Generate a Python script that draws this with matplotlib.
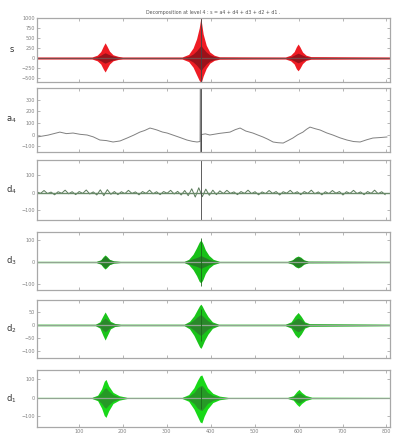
import numpy as np
import matplotlib
matplotlib.use("Agg")
import matplotlib.pyplot as plt

# ---------------- data ----------------
title_text = "Decomposition at level 4 : s = a4 + d4 + d3 + d2 + d1 ."
x_ticks = [100, 200, 300, 400, 500, 600, 700, 800]
panel_labels = ["s", "a$_4$", "d$_4$", "d$_3$", "d$_2$", "d$_1$"]

spike_x = 378

# signal s : burst envelopes
s_x = [5, 130, 142, 150, 156, 160, 164, 170, 178, 190, 200,
       335, 350, 360, 368, 374, 377, 378, 379, 383, 390, 398, 408, 420,
       570, 582, 590, 595, 599, 603, 609, 617, 628, 808]
s_hi = [25, 25, 70, 160, 300, 380, 300, 170, 80, 40, 25,
        25, 90, 250, 480, 750, 950, 1400, 900, 600, 320, 150, 70, 30,
        25, 70, 160, 280, 350, 280, 150, 70, 35, 25]
s_lo = [-25, -25, -70, -150, -280, -350, -270, -150, -70, -35, -25,
        -25, -90, -230, -420, -560, -600, -900, -600, -450, -260, -130, -60, -30,
        -25, -70, -150, -270, -320, -260, -140, -60, -30, -25]
s_core = [10, 10, 30, 70, 110, 130, 110, 80, 50, 20, 10,
          10, 40, 100, 180, 260, 300, 350, 300, 240, 150, 80, 40, 15,
          10, 30, 70, 100, 120, 100, 70, 40, 15, 10]

# approximation a4
a_x = [5, 30, 57, 72, 87, 103, 119, 133, 148, 163, 178, 194, 210, 225, 239, 250, 262, 270, 278,
       290, 301, 314, 330, 346, 358, 369, 376, 377, 378, 379, 388, 398, 420, 444,
       456, 467, 480, 496, 508, 519, 530, 542, 553, 565, 576, 587, 598, 610, 618, 626, 638, 649,
       664, 678, 694, 710, 725, 740, 755, 769, 785, 801]
a_v = [-21, -5, 21, 8, 13, 2, -4, -20, -47, -52, -64, -55, -30, -5, 21, 35, 56, 48, 39,
       22, 13, -4, -25, -47, -58, -64, -60, 1200, -900, 0, 6, -4, 10, 21,
       42, 56, 30, 13, -5, -21, -40, -64, -70, -73, -52, -30, -2, 21, 45, 64, 50, 39,
       14, -4, -28, -47, -60, -64, -45, -30, -26, -21]

# detail d4 (noisy), sampled every 8 points from 5
d4_v = [4, -5, 12, -6, 3, -13, 5, -4, 14, -7,
        5, -12, 6, -5, 15, -8, 4, -14, 16, -18,
        17, -10, 6, -12, 5, -6, 13, -5, 4, -13,
        6, -5, 14, -7, 5, -12, 6, -4, 13, -8,
        7, -14, 12, -18, 22, -26, 28, -24, 20, -16,
        14, -12, 10, -6, 13, -5, 4, -12, 6, -5,
        14, -6, 5, -13, 4, -6, 12, -5, 6, -14,
        5, -4, 13, -6, 5, -12, 6, -5, 14, -7,
        4, -13, 5, -6, 12, -4, 6, -14, 5, -5,
        13, -6, 4, -12, 6, -5, 14, -7, 5, -12]

# detail d3 envelopes
d3_x = [5, 140, 150, 156, 160, 164, 170, 180, 195,
        340, 350, 360, 368, 374, 378, 382, 388, 396, 406, 420,
        575, 586, 593, 599, 605, 612, 622, 808]
d3_hi = [3, 3, 10, 25, 32, 25, 12, 5, 3,
         3, 12, 35, 65, 90, 100, 85, 55, 30, 12, 3,
         3, 10, 22, 27, 22, 10, 4, 3]
d3_lo = [-3, -3, -10, -25, -32, -25, -12, -5, -3,
         -3, -12, -35, -62, -88, -95, -82, -52, -28, -12, -3,
         -3, -10, -22, -27, -22, -10, -4, -3]
d3_core = [2, 2, 8, 20, 28, 20, 10, 4, 2,
           2, 8, 15, 20, 25, 30, 25, 20, 12, 6, 2,
           2, 8, 18, 24, 18, 8, 3, 2]

# detail d2 envelopes
d2_x = [5, 138, 148, 155, 160, 165, 172, 182, 195,
        340, 352, 362, 370, 375, 378, 381, 386, 394, 404, 418,
        570, 583, 592, 599, 606, 614, 625, 808]
d2_hi = [3, 3, 12, 35, 50, 35, 14, 6, 3,
         3, 14, 35, 60, 75, 80, 72, 55, 32, 12, 3,
         3, 12, 35, 48, 33, 12, 5, 3]
d2_lo = [-3, -3, -12, -40, -58, -40, -15, -6, -3,
         -3, -15, -40, -68, -85, -90, -80, -60, -35, -13, -3,
         -3, -12, -38, -50, -35, -12, -5, -3]
d2_core = [2, 2, 8, 20, 26, 20, 9, 4, 2,
           2, 8, 20, 32, 38, 40, 36, 28, 16, 7, 2,
           2, 8, 20, 26, 20, 8, 3, 2]

# detail d1 envelopes
d1_x = [5, 130, 143, 152, 158, 162, 168, 178, 192, 210,
        335, 350, 362, 370, 376, 380, 385, 393, 405, 420, 440,
        575, 588, 596, 601, 607, 616, 630, 808]
d1_hi = [3, 3, 15, 50, 90, 100, 65, 30, 12, 3,
         3, 18, 55, 95, 120, 124, 95, 55, 25, 10, 3,
         3, 12, 35, 46, 30, 14, 4, 3]
d1_lo = [-3, -3, -15, -55, -95, -105, -70, -30, -12, -3,
         -3, -18, -60, -100, -130, -135, -100, -60, -25, -10, -3,
         -3, -12, -35, -46, -30, -14, -4, -3]
d1_core = [2, 2, 10, 30, 50, 55, 38, 18, 6, 2,
           2, 10, 30, 55, 65, 68, 55, 30, 14, 5, 2,
           2, 8, 22, 28, 20, 8, 2, 2]

ylims = [(-600, 1000), (-150, 400), (-160, 190), (-127, 136), (-127, 96), (-157, 151)]
yticks = [[-500, -250, 0, 250, 500, 750, 1000], [-100, 0, 100, 200, 300],
          [-100, 0, 100], [-100, 0, 100], [-100, -50, 0, 50], [-100, 0, 100]]
spike_lo = [-2000, -2000, -500, -110, -60, -60]
spike_hi = [2000, 2000, 500, 110, 60, 60]

# ---------------- figure ----------------
W, H = 396, 443
fig = plt.figure(figsize=(W / 100, H / 100), dpi=100)
px_boxes = [(18, 82), (88, 152), (160, 220), (232, 290), (300, 358), (370, 427)]
left_px, right_px = 37, 390
axes = []
for (t, b) in px_boxes:
    ax = fig.add_axes([left_px / W, 1 - b / H, (right_px - left_px) / W, (b - t) / H])
    axes.append(ax)

edge = "#a8a8a8"
for i, ax in enumerate(axes):
    ax.set_xlim(5, 808)
    ax.set_ylim(*ylims[i])
    ax.set_yticks(yticks[i])
    ax.set_xticks(x_ticks)
    ax.tick_params(direction="in", length=2, width=0.5, colors="#999999",
                   labelsize=3.5, labelcolor="#808080", top=True, right=True, pad=1.5)
    for sp in ax.spines.values():
        sp.set_color(edge)
        sp.set_linewidth(0.9)
    if i < 5:
        ax.set_xticklabels([])
    ax.set_ylabel(panel_labels[i], rotation=0, fontsize=6, color="#333333",
                  labelpad=7, va="center")

# s
ax = axes[0]
ax.fill_between(s_x, s_lo, s_hi, color="#ee1c24", lw=0)
ax.fill_between(s_x, -np.array(s_core), s_core, color="#9a121a", lw=0)
ax.axhline(0, color="#7a4a4a", lw=0.9)

# a4
ax = axes[1]
ax.plot(a_x, a_v, color="#808080", lw=0.7)

# d4
ax = axes[2]
d4_x = 5 + 8 * np.arange(len(d4_v))
ax.plot(d4_x, d4_v, color="#5a7a5a", lw=0.7)
ax.axhline(0, color="#6a8a6a", lw=1.0)

greens = [("#18c018", "#2a6e2a"), ("#1ac41a", "#2f7a2f"), ("#18d818", "#2a8a2a")]
for ax, (xx, lo, hi, core), (c_out, c_in) in zip(
        axes[3:],
        [(d3_x, d3_lo, d3_hi, d3_core), (d2_x, d2_lo, d2_hi, d2_core), (d1_x, d1_lo, d1_hi, d1_core)],
        greens):
    ax.axhline(0, color="#93a593", lw=0.9)
    ax.fill_between(xx, lo, hi, color=c_out, lw=0)
    ax.fill_between(xx, -np.array(core), core, color=c_in, lw=0, alpha=0.8)

for i, ax in enumerate(axes):
    ax.vlines(spike_x, spike_lo[i], spike_hi[i], color="#444444" if i < 3 else "#1a6a1a", lw=0.6)

axes[0].set_title(title_text, fontsize=3.4, color="#555555", pad=3)

fig.savefig("out.png", dpi=100)
